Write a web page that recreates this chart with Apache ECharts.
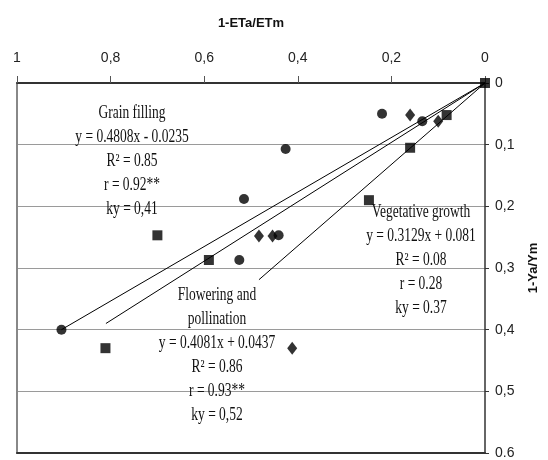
<!DOCTYPE html>
<html>
<head>
<meta charset="utf-8">
<script src="https://cdn.jsdelivr.net/npm/echarts@6/dist/echarts.min.js"></script>
<style>
html,body{margin:0;padding:0;background:#fff;overflow:hidden;width:548px;height:460px;}
#chart{width:548px;height:460px;}
</style>
</head>
<body>
<div id="chart"></div>
<script>
// Tick values and labels
const xTickValues = [0, 0.2, 0.4, 0.6, 0.8, 1];
const xTickLabels = ['0', '0,2', '0,4', '0,6', '0,8', '1'];
const yTickValues = [0, 0.1, 0.2, 0.3, 0.4, 0.5, 0.6];
const yTickLabels = ['0', '0,1', '0,2', '0,3', '0,4', '0,5', '0.6'];

// Scatter points [1-ETa/ETm, 1-Ya/Ym]
const circlePoints = [[0.22, 0.05], [0.134, 0.062], [0.426, 0.107], [0.515, 0.188], [0.441, 0.247], [0.525, 0.287], [0.905, 0.40]];
const diamondPoints = [[0.16, 0.052], [0.10, 0.062], [0.483, 0.248], [0.454, 0.248], [0.412, 0.43]];
const squarePoints = [[0, 0], [0.082, 0.052], [0.16, 0.105], [0.248, 0.19], [0.70, 0.247], [0.59, 0.287], [0.811, 0.43]];

// Trend lines (drawn from the origin)
const lineA = [[0, 0], [0.905, 0.40]];
const lineB = [[0, 0], [0.81, 0.39]];
const lineC = [[0, 0], [0.483, 0.319]];

// Annotations
const grainText = ['Grain filling', 'y = 0.4808x - 0.0235', 'R² = 0.85', 'r = 0.92**', 'ky = 0,41'];
const vegText = ['Vegetative growth', 'y = 0.3129x + 0.081', 'R² = 0.08', 'r = 0.28', 'ky = 0.37'];
const flowerText = ['Flowering and', 'pollination', 'y = 0.4081x + 0.0437', 'R² = 0.86', 'r = 0.93**', 'ky = 0,52'];

function labelFor(values, labels) {
  return function (v) {
    let best = 0, d = Infinity;
    values.forEach((t, i) => { const dd = Math.abs(t - v); if (dd < d) { d = dd; best = i; } });
    return labels[best];
  };
}

const chart = echarts.init(document.getElementById('chart'), null, {renderer: 'canvas', width: 548, height: 460});

const annoStyle = {
  fill: '#111',
  fontFamily: '"Liberation Serif", "DejaVu Serif", serif',
  fontSize: 18,
  lineHeight: 24,
  textAlign: 'center',
  textVerticalAlign: 'top'
};

function anno(lines, x, y) {
  return {
    type: 'text',
    x: x, y: y,
    scaleX: 0.75,
    z: 100,
    style: Object.assign({text: lines.join('\n')}, annoStyle)
  };
}

const option = {
  backgroundColor: '#fff',
  animation: false,
  grid: {left: 17, right: 55, top: 83, bottom: 7, containLabel: false},
  xAxis: [
    {
      type: 'value', position: 'top', inverse: true, min: 0, max: 1, interval: 0.2,
      name: '1-ETa/ETm', nameLocation: 'middle', nameGap: 53,
      nameTextStyle: {fontWeight: 'bold', fontSize: 13, color: '#111', fontFamily: '"Liberation Sans", sans-serif'},
      axisLine: {show: true, onZero: false, lineStyle: {color: '#333', width: 2}},
      axisTick: {show: true, length: 7, lineStyle: {color: '#555', width: 1}},
      axisLabel: {margin: 18, fontSize: 14, color: '#222', fontFamily: '"Liberation Sans", sans-serif',
        formatter: labelFor(xTickValues, xTickLabels)},
      splitLine: {show: false}
    },
    {
      type: 'value', position: 'bottom', inverse: true, min: 0, max: 1, interval: 0.2,
      axisLine: {show: true, onZero: false, lineStyle: {color: '#333', width: 2}},
      axisTick: {show: false}, axisLabel: {show: false}, splitLine: {show: false}
    }
  ],
  yAxis: [
    {
      type: 'value', position: 'right', inverse: true, min: 0, max: 0.6, interval: 0.1,
      name: '1-Ya/Ym', nameLocation: 'middle', nameGap: 42, nameRotate: 90,
      nameTextStyle: {fontWeight: 'bold', fontSize: 13, color: '#111', fontFamily: '"Liberation Sans", sans-serif'},
      axisLine: {show: true, onZero: false, lineStyle: {color: '#333', width: 1.5}},
      axisTick: {show: true, length: 4, lineStyle: {color: '#333', width: 1}},
      axisLabel: {margin: 10, fontSize: 14, color: '#222', fontFamily: '"Liberation Sans", sans-serif',
        formatter: labelFor(yTickValues, yTickLabels)},
      splitLine: {show: true, lineStyle: {color: '#9a9a9a', width: 1}}
    },
    {
      type: 'value', position: 'left', inverse: true, min: 0, max: 0.6, interval: 0.1,
      axisLine: {show: true, onZero: false, lineStyle: {color: '#888', width: 2}},
      axisTick: {show: false}, axisLabel: {show: false}, splitLine: {show: false}
    }
  ],
  series: [
    {type: 'line', data: lineA, symbol: 'none', lineStyle: {color: '#000', width: 1}, silent: true},
    {type: 'line', data: lineB, symbol: 'none', lineStyle: {color: '#000', width: 1}, silent: true},
    {type: 'line', data: lineC, symbol: 'none', lineStyle: {color: '#000', width: 1}, silent: true},
    {type: 'scatter', name: 'circles', data: circlePoints, symbol: 'circle', symbolSize: 10, itemStyle: {color: '#000'}},
    {type: 'scatter', name: 'diamonds', data: diamondPoints, symbol: 'diamond', symbolSize: [10, 13], itemStyle: {color: '#000'}},
    {type: 'scatter', name: 'squares', data: squarePoints, symbol: 'rect', symbolSize: 10, itemStyle: {color: '#000'}}
  ],
  graphic: [
    anno(grainText, 132, 101),
    anno(vegText, 421, 200),
    anno(flowerText, 217, 283)
  ]
};

chart.setOption(option);
</script>
</body>
</html>
